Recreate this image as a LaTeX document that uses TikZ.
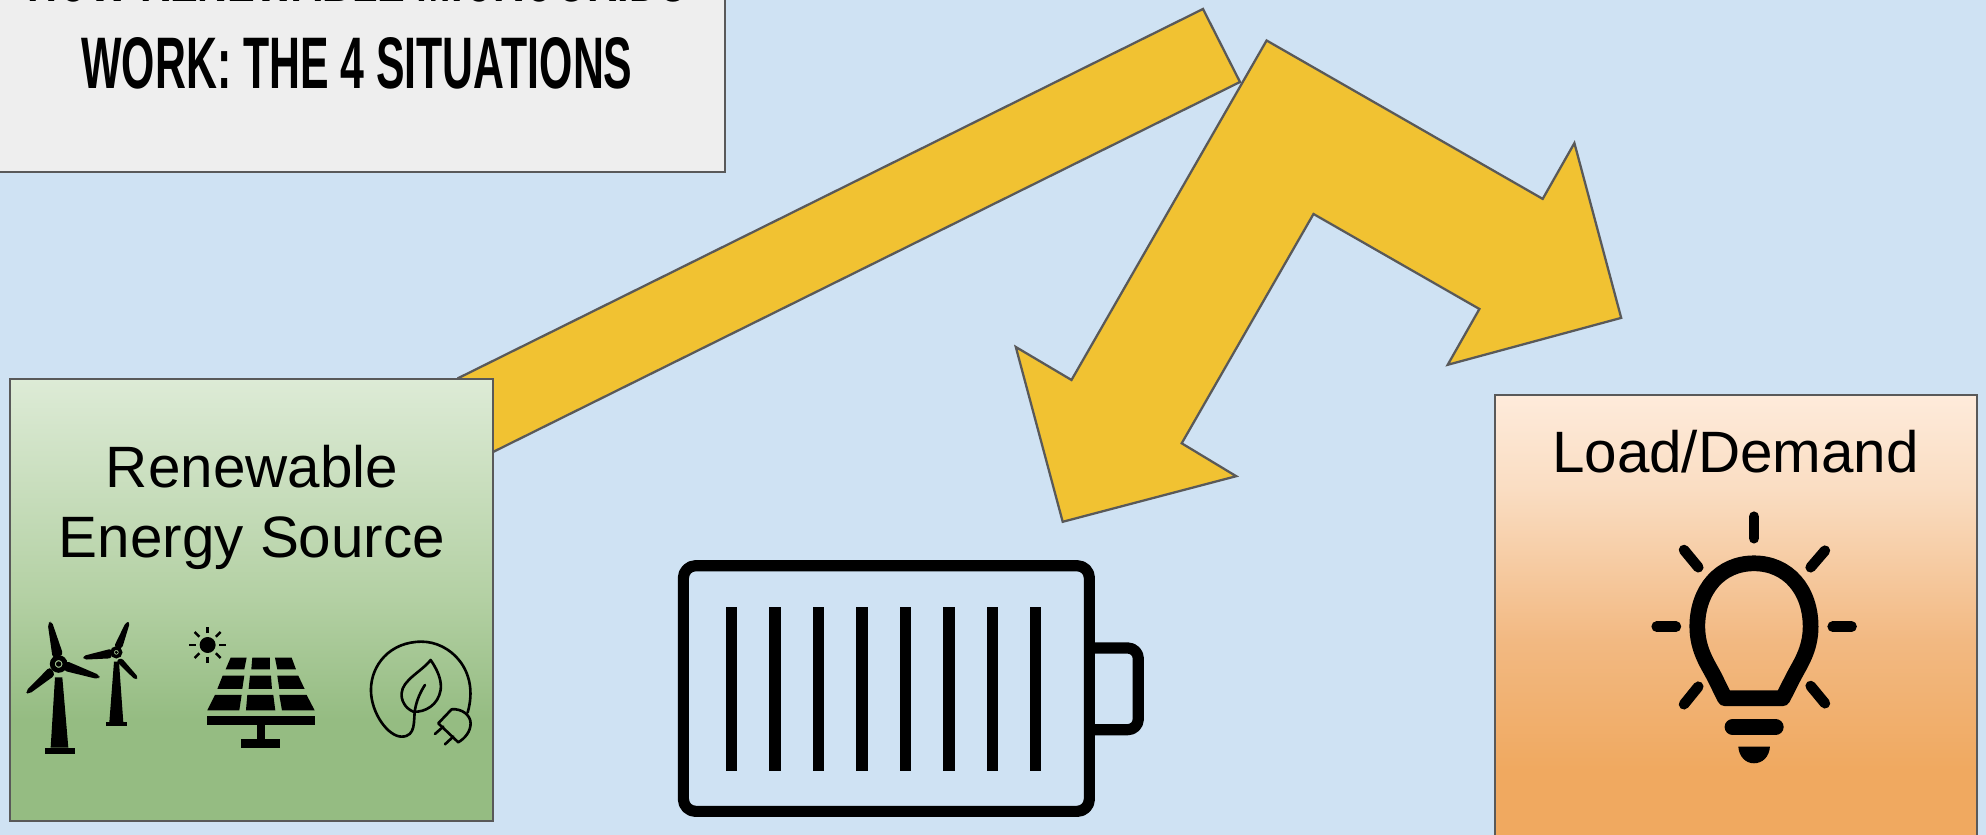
\documentclass[tikz,border=0pt]{standalone}
\usepackage{fontspec}
\setmainfont{Liberation Sans}
\usetikzlibrary{positioning}
\definecolor{skyback}{HTML}{CFE2F3}
\definecolor{titlegray}{HTML}{EEEEEE}
\definecolor{flowyellow}{HTML}{F1C232}
\definecolor{edgegray}{HTML}{595959}
\definecolor{greena}{HTML}{DDEBD6}
\definecolor{greenb}{HTML}{B3D0A3}
\definecolor{greenc}{HTML}{95BC82}
\definecolor{orangea}{HTML}{FEEBDB}
\definecolor{orangeb}{HTML}{FADDC2}
\definecolor{orangec}{HTML}{F2B982}
\definecolor{oranged}{HTML}{F0A960}
\tikzset{
  edge/.style={draw=edgegray, line width=0.65pt},
  flow/.style={edge, fill=flowyellow, line join=miter},
  label/.style={inner sep=0pt, font=\fontsize{16.7}{20.2}\selectfont, align=center},
  headline/.style={inner sep=0pt, xscale=0.586, font=\fontsize{20.9}{25.1}\selectfont\bfseries, align=center},
  icon/.style={line width=3.2pt, line join=round},
  ray/.style={line width=3pt, line cap=round},
  wire/.style={line width=0.75pt, line cap=round, line join=round}
}
\begin{document}
\begin{tikzpicture}[x=0.01005cm, y=-0.01005cm]
  \useasboundingbox (0,0) rectangle (1986,835);
  \clip (0,0) rectangle (1986,835);
  \fill[skyback] (0,0) rectangle (1986,835);
  % titre
  \draw[edge, fill=titlegray] (-10,-10) rectangle (725,172);
  \node[headline, anchor=base] (title) at (357,89) {\scalebox{0.97}[1]{HOW RENEWABLE MICROGRIDS}\\WORK: THE 4 SITUATIONS};
  % fleches
  \draw[flow] (1203,9) -- (1240,82) -- (493,452) -- (458.5,378) -- cycle;
  \draw[flow] (1266.6,40.5) -- (1542.7,198.9) -- (1574.4,143.1) -- (1621.2,317.9) -- (1447.7,364.8) -- (1479.4,309)
    -- (1313.5,214) -- (1181.7,443.3) -- (1236.2,476.2) -- (1062.7,521.8) -- (1015.8,347) -- (1071.5,380) -- cycle;
  % source
  \shade[top color=greena, bottom color=greenb] (10,379) rectangle (493,600);
  \shade[top color=greenb, bottom color=greenc] (10,599.5) rectangle (493,720);
  \fill[greenc] (10,719.5) rectangle (493,821);
  \draw[edge] (10,379) rectangle (493,821);
  \node[label, anchor=base] (source) at (252,558) {Renewable\\Energy Source};
  % charge
  \shade[top color=orangea, bottom color=orangeb] (1495,395) rectangle (1977,490);
  \shade[top color=orangeb, bottom color=orangec] (1495,489.5) rectangle (1977,640);
  \shade[top color=orangec, bottom color=oranged] (1495,639.5) rectangle (1977,770);
  \fill[oranged] (1495,769.5) rectangle (1977,850);
  \draw[edge] (1495,395) rectangle (1977,850);
  \node[label, anchor=base] (load) at (1735.5,473) {Load/Demand};
  % batterie
  \draw[icon, rounded corners=3.5pt] (683.4,565.7) rectangle (1089.4,811.4);
  \draw[icon, rounded corners=3pt] (1089.4,648) -- (1138.3,648) -- (1138.3,729.7) -- (1089.4,729.7);
  \foreach \x in {731.7,775,818.7,862,905.3,949,992.3,1035.7}
    \fill (\x-5.6,606.7) rectangle (\x+5.6,770.7);
  % eoliennes
  \begin{scope}[shift={(0,590)}, scale=0.3333]
    \fill (165,262) -- (187,262) -- (205,473) -- (152,473) -- cycle;
    \fill (134,473) rectangle (224,491);
    \fill[rounded corners=1pt] (143,100) -- (155,93) -- (190,195) -- (158,205) -- cycle;
    \fill[rounded corners=1pt] (197,212) -- (300,256) -- (296,268) -- (190,242) -- cycle;
    \fill[rounded corners=1pt] (76,305) -- (150,230) -- (166,255) -- (86,313) -- cycle;
    \draw[line width=1.4pt] (176,222) circle[radius=19];
    \fill (176,222) circle[radius=8];
    \fill (342,215) -- (357,215) -- (370,397) -- (328,397) -- cycle;
    \fill (317,397) rectangle (382,409);
    \fill[rounded corners=0.8pt] (342,170) -- (378,96) -- (390,97) -- (366,176) -- cycle;
    \fill[rounded corners=0.8pt] (249,198) -- (335,176) -- (335,205) -- (252,209) -- cycle;
    \fill[rounded corners=0.8pt] (364,203) -- (415,262) -- (406,270) -- (348,213) -- cycle;
    \draw[line width=1pt] (349,187) circle[radius=13];
    \fill (349,187) circle[radius=5];
    % panneau
    \fill (623,165) circle[radius=24];
    \foreach \a in {0,45,...,315}
      \draw[line width=0.7pt] (623,165) ++(\a:35) -- ++(\a:20);
    \fill (692,203) -- (740,203) -- (733,238) -- (677,238) -- cycle;
    \fill (757,203) -- (810,203) -- (810,238) -- (754,238) -- cycle;
    \fill (825,203) -- (875,203) -- (888,238) -- (832,238) -- cycle;
    \fill (668,257) -- (733,257) -- (727,297) -- (652,297) -- cycle;
    \fill (750,257) -- (813,257) -- (816,297) -- (746,297) -- cycle;
    \fill (832,257) -- (895,257) -- (914,297) -- (838,297) -- cycle;
    \fill (645,315) -- (725,315) -- (718,361) -- (622,361) -- cycle;
    \fill (742,315) -- (820,315) -- (826,361) -- (738,361) -- cycle;
    \fill (838,315) -- (920,315) -- (944,361) -- (846,361) -- cycle;
    \fill (621,378) rectangle (944,405);
    \fill (770,405) rectangle (795,447);
    \fill (724,447) rectangle (841,473);
    % feuille et prise
    \draw[wire] (1403,368) .. controls (1440,240) and (1350,155) .. (1265,155)
      .. controls (1170,155) and (1113,225) .. (1113,300)
      .. controls (1113,370) and (1165,440) .. (1205,440)
      .. controls (1250,440) and (1240,390) .. (1245,360)
      .. controls (1250,330) and (1262,305) .. (1275,285);
    \draw[wire] (1292,210) .. controls (1320,250) and (1325,280) .. (1322,300)
      .. controls (1315,345) and (1275,368) .. (1240,365)
      .. controls (1215,355) and (1203,330) .. (1205,310)
      .. controls (1207,270) and (1265,245) .. (1292,210) -- cycle;
    \draw[wire] (1315,400) -- (1375,457) .. controls (1395,445) and (1412,425) .. (1412,400)
      .. controls (1412,375) and (1385,355) .. (1355,358) -- cycle;
    \draw[wire] (1305,432) -- (1330,410);
    \draw[wire] (1335,463) -- (1360,440);
  \end{scope}
  % ampoule
  \begin{scope}[shift={(1480,490)}, scale=0.3333]
    \draw[line width=4.5pt, line join=round] (735,625) -- (703,560)
      .. controls (685,525) and (652,480) .. (652,410)
      .. controls (652,300) and (720,220) .. (822,220)
      .. controls (924,220) and (992,300) .. (992,410)
      .. controls (992,480) and (959,525) .. (941,560) -- (908,625) -- cycle;
    \foreach \ax/\ay/\bx/\by in {822/80/822/145, 612/180/655/232, 1035/182/992/232, 655/590/612/643, 992/588/1035/640, 530/410/588/410, 1058/410/1115/410}
      \draw[ray] (\ax,\ay) -- (\bx,\by);
    \draw[line width=4.6pt, line cap=round] (758,711) -- (887,711);
    \fill (775,770) -- (870,770) .. controls (868,800) and (848,820) .. (822,820) .. controls (797,820) and (777,800) .. (775,770) -- cycle;
  \end{scope}
\end{tikzpicture}
\end{document}
